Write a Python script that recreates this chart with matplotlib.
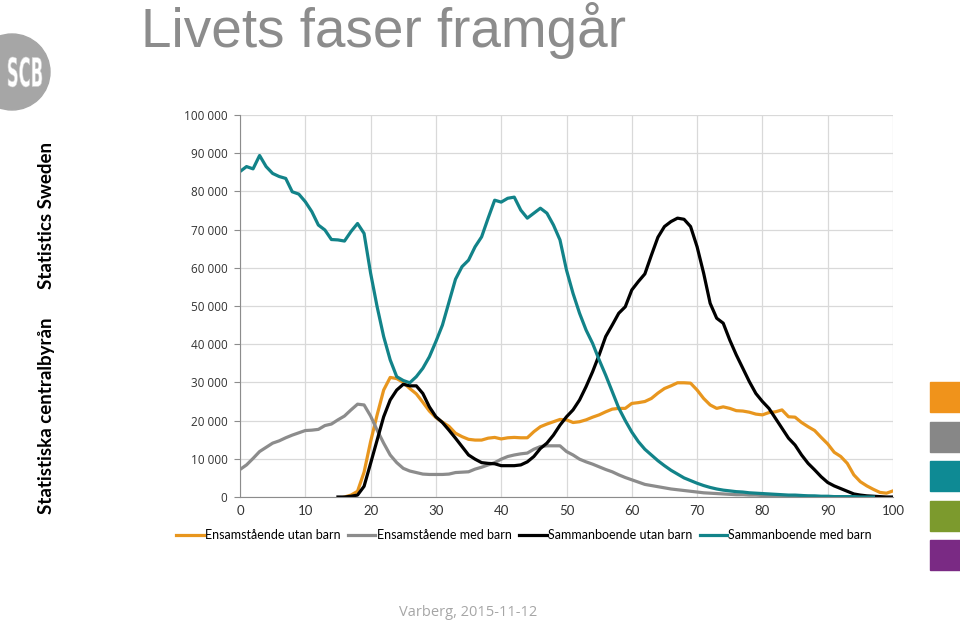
import numpy as np
import matplotlib
matplotlib.use("Agg")
import matplotlib.pyplot as plt
from matplotlib.patches import Circle, Rectangle, PathPatch
from matplotlib.textpath import TextPath
from matplotlib.font_manager import FontProperties
from matplotlib.transforms import Affine2D

# values in thousands, one per age starting at the given start age
ensam_utan_start = 16
ensam_utan = [0.0, 0.5, 1.5, 6.5, 14.5, 21.5, 28.0, 31.3, 31.0, 30.0,   # 16-25
              28.4, 27.0, 24.8, 22.5, 20.8, 19.6, 18.5, 16.7, 15.8, 15.1,  # 26-35
              14.9, 14.9, 15.4, 15.6, 15.2, 15.5, 15.6, 15.5, 15.5, 17.1,  # 36-45
              18.4, 19.1, 19.7, 20.3, 20.2, 19.5, 19.7, 20.2, 20.9, 21.5,  # 46-55
              22.3, 23.0, 23.2, 23.2, 24.5, 24.7, 25.0, 25.8, 27.2, 28.4,  # 56-65
              29.1, 29.9, 29.9, 29.8, 28.0, 25.8, 24.1, 23.2, 23.6, 23.2,  # 66-75
              22.6, 22.5, 22.2, 21.7, 21.5, 22.1, 22.3, 22.8, 21.0, 20.9,  # 76-85
              19.5, 18.4, 17.4, 15.6, 13.9, 11.7, 10.6, 8.8, 5.8, 4.0,     # 86-95
              2.9, 2.0, 1.2, 1.0, 1.6]                                     # 96-100

ensam_med_start = 0
ensam_med = [7.2, 8.4, 10.1, 11.9, 13.0, 14.1, 14.7, 15.5, 16.2, 16.8,    # 0-9
             17.4, 17.5, 17.7, 18.7, 19.1, 20.2, 21.2, 22.8, 24.3, 24.1,  # 10-19
             21.2, 17.5, 14.1, 11.0, 9.0, 7.5, 6.8, 6.4, 6.0, 5.9,        # 20-29
             5.9, 5.9, 6.0, 6.4, 6.5, 6.6, 7.3, 7.8, 8.4, 9.0,            # 30-39
             9.9, 10.6, 11.0, 11.3, 11.5, 12.5, 13.2, 13.4, 13.4, 13.4,   # 40-49
             11.9, 11.0, 9.9, 9.2, 8.6, 7.9, 7.2, 6.6, 5.8, 5.1,          # 50-59
             4.5, 3.9, 3.3, 3.0, 2.7, 2.4, 2.1, 1.9, 1.7, 1.5,            # 60-69
             1.3, 1.1, 1.0, 0.9, 0.8, 0.7, 0.6, 0.6, 0.5, 0.5,            # 70-79
             0.4, 0.4, 0.3, 0.3, 0.3, 0.2, 0.2, 0.2, 0.1, 0.1,            # 80-89
             0.1, 0.1, 0.1, 0.0, 0.0, 0.0, 0.0, 0.0]                      # 90-97

samman_utan_start = 15
samman_utan = [0.0, 0.0, 0.2, 0.5, 2.8, 8.8, 14.9, 21.0, 25.4, 28.0,      # 15-24
               29.5, 29.1, 29.1, 27.1, 23.6, 21.0, 19.5, 17.5, 15.4, 13.2,  # 25-34
               11.0, 9.9, 9.0, 8.8, 8.7, 8.2, 8.2, 8.2, 8.4, 9.2,         # 35-44
               10.6, 12.7, 14.1, 16.2, 18.8, 21.0, 22.8, 25.4, 28.9, 32.8,  # 45-54
               37.2, 42.0, 45.0, 48.1, 49.8, 54.2, 56.4, 58.4, 63.3, 68.0,  # 55-64
               70.8, 72.1, 73.0, 72.7, 70.8, 65.5, 58.6, 50.7, 46.8, 45.5,  # 65-74
               41.1, 37.2, 33.7, 30.2, 27.1, 25.0, 23.2, 20.6, 18.0, 15.4,  # 75-84
               13.6, 11.0, 8.8, 7.1, 5.3, 3.8, 2.9, 2.2, 1.5, 0.8,        # 85-94
               0.5, 0.3, 0.2, 0.1, 0.0, 0.0]                              # 95-100

samman_med_start = 0
samman_med = [85.2, 86.5, 85.9, 89.4, 86.5, 84.7, 83.9, 83.4, 79.9, 79.3,   # 0-9
              77.3, 74.7, 71.2, 69.9, 67.4, 67.3, 67.0, 69.5, 71.6, 69.0,  # 10-19
              58.6, 49.8, 42.0, 35.9, 31.5, 30.5, 29.9, 31.5, 33.7, 36.7,  # 20-29
              40.7, 45.0, 51.0, 57.0, 60.3, 62.0, 65.5, 68.1, 73.0, 77.7,  # 30-39
              77.2, 78.2, 78.5, 75.1, 73.0, 74.3, 75.6, 74.3, 71.2, 67.3,  # 40-49
              59.4, 53.3, 48.1, 43.7, 40.2, 35.9, 31.9, 27.6, 23.3, 20.0,  # 50-59
              17.0, 14.5, 12.5, 11.0, 9.5, 8.2, 7.0, 6.0, 5.0, 4.3,        # 60-69
              3.6, 3.0, 2.5, 2.1, 1.8, 1.6, 1.4, 1.3, 1.1, 1.0,            # 70-79
              0.9, 0.8, 0.7, 0.6, 0.5, 0.5, 0.4, 0.3, 0.3, 0.2,            # 80-89
              0.2, 0.1, 0.1, 0.1, 0.1, 0.0, 0.0, 0.0]                      # 90-97

series = [
    ("Ensamstående utan barn", ensam_utan_start, ensam_utan, "#E8961E"),
    ("Ensamstående med barn", ensam_med_start, ensam_med, "#8C8C8C"),
    ("Sammanboende utan barn", samman_utan_start, samman_utan, "#000000"),
    ("Sammanboende med barn", samman_med_start, samman_med, "#128389"),
]

side_colors = ["#F0931B", "#878787", "#0E8A94", "#7C9A2D", "#7A2A84"]

W, H = 960, 621
fig = plt.figure(figsize=(W / 100, H / 100), dpi=100)

# main chart
ax = fig.add_axes([240 / W, 1 - 497 / H, (893 - 240) / W, (497 - 115) / H])
for name, start, vals, col in series:
    ages = np.arange(start, start + len(vals))
    ax.plot(ages, np.array(vals) * 1000, color=col, lw=2.3, label=name,
            solid_joinstyle="round")

ax.set_xlim(0, 100)
ax.set_ylim(0, 100000)
ax.set_xticks(np.arange(0, 101, 10))
ax.set_yticks(np.arange(0, 100001, 10000))
ax.set_yticklabels([f"{v:,}".replace(",", " ") for v in range(0, 100001, 10000)])
ax.grid(True, color="#D9D9D9", lw=0.9)
ax.set_axisbelow(True)
for s in ["top", "right"]:
    ax.spines[s].set_visible(False)
ax.spines["left"].set_color("#8C8C8C")
ax.spines["bottom"].set_color("#8C8C8C")
ax.tick_params(axis="y", length=4, color="#8C8C8C", labelsize=8.5,
               labelcolor="#333333", pad=5)
ax.tick_params(axis="x", length=0, labelsize=9.5, labelcolor="#333333", pad=6)
for lab in ax.get_yticklabels():
    lab.set_family("Open Sans")
for lab in ax.get_xticklabels():
    lab.set_family("Lato")

fig.legend(loc="center", bbox_to_anchor=(524 / W, 1 - 535 / H), ncol=4,
           frameon=False, handlelength=2.2, handletextpad=0.1,
           columnspacing=0.6, prop={"family": "Lato", "size": 9})

# decorations in pixel space
deco = fig.add_axes([0, 0, 1, 1], zorder=-1)
deco.set_xlim(0, W)
deco.set_ylim(H, 0)
deco.axis("off")

deco.add_patch(Circle((12, 72), 38, color="#A6A6A6"))
tp = TextPath((0, 0), "SCB", size=10,
              prop=FontProperties(family="DejaVu Sans", weight="bold"))
bb = tp.get_extents()
tr = (Affine2D().translate(-bb.x0, -bb.y0)
      .scale(34 / bb.width, -30 / bb.height).translate(8, 87))
deco.add_patch(PathPatch(tr.transform_path(tp), facecolor="white",
                         edgecolor="#D0D0D0", lw=0.4))

fig.text(141 / W, 1 - 47 / H, "Livets faser framgår", color="#8C8C8C",
         fontsize=39.5, family="Liberation Sans", va="baseline", ha="left")

fig.text(47 / W, 1 - 514 / H, "Statistiska centralbyrån", rotation=90,
         fontsize=13.5, fontweight="bold", family="Lato", ha="center", va="bottom")
fig.text(47 / W, 1 - 289 / H, "Statistics Sweden", rotation=90,
         fontsize=13.5, fontweight="bold", family="Lato", ha="center", va="bottom")

for i, c in enumerate(side_colors):
    top = 382 + i * 39.5
    deco.add_patch(Rectangle((930, top), 30, 30, color=c))

fig.text(468 / W, 1 - 612 / H, "Varberg, 2015-11-12", color="#A6A6A6",
         fontsize=10.5, family="Open Sans", ha="center", va="center")

fig.savefig("out.png", dpi=100)
